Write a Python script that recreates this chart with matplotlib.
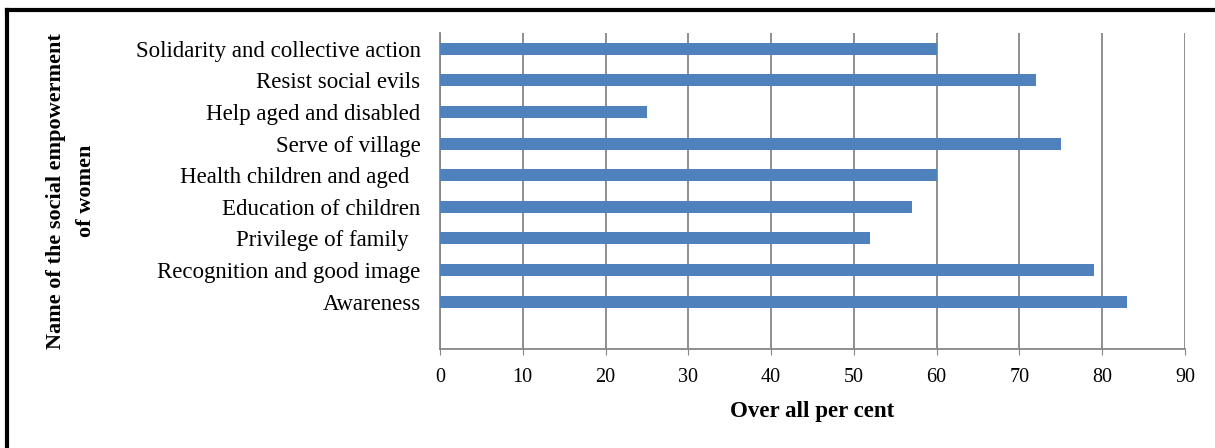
import numpy as np
import matplotlib.pyplot as plt
from matplotlib.lines import Line2D

plt.rcParams['font.family'] = ['Liberation Serif', 'DejaVu Serif']

# Данные (снизу вверх, как в Excel)
categories = ['', 'Awareness', 'Recognition and good image', 'Privilege of family  ',
              'Education of children', 'Health children and aged  ', 'Serve of village',
              'Help aged and disabled', 'Resist social evils', 'Solidarity and collective action']
values = [0, 83, 79, 52, 57, 60, 75, 25, 72, 60]
xticks = list(range(0, 100, 10))

W, H = 1215, 448
fig = plt.figure(figsize=(W / 100, H / 100), dpi=100)
ax = fig.add_axes([440 / W, 1 - 349 / H, (1185 - 440) / W, (349 - 33) / H])

y = np.arange(len(categories))
ax.barh(y[1:], values[1:], height=0.38, color='#4F81BD', zorder=3)

ax.set_xlim(0, 90)
ax.set_ylim(-0.5, len(categories) - 0.5)
ax.set_xticks(xticks)
ax.set_yticks(y)
ax.set_yticklabels(categories, fontsize=16.5)
ax.tick_params(axis='x', labelsize=14.5, length=4, color='#868686', pad=10)
ax.tick_params(axis='y', length=0, pad=14)

ax.grid(axis='x', color='#868686', linewidth=1.3, zorder=0)
for s in ['top', 'right']:
    ax.spines[s].set_visible(False)
for s in ['left', 'bottom']:
    ax.spines[s].set_color('#868686')
    ax.spines[s].set_linewidth(1.3)

ax.set_xlabel('Over all per cent', fontsize=16.5, fontweight='bold', labelpad=10)
ax.set_ylabel('Name of the social empowerment\nof women', fontsize=16,
              fontweight='bold', linespacing=1.7)
ax.yaxis.set_label_coords(-(440 - 96) / (1185 - 440), 0.5)

# рамка (видна только сверху и слева)
fig.add_artist(Line2D([7 / W, 1], [1 - 10 / H, 1 - 10 / H], color='black', linewidth=3,
                      transform=fig.transFigure))
fig.add_artist(Line2D([7 / W, 7 / W], [0, 1 - 10 / H], color='black', linewidth=3,
                      transform=fig.transFigure))

fig.savefig('out.png', dpi=100)
